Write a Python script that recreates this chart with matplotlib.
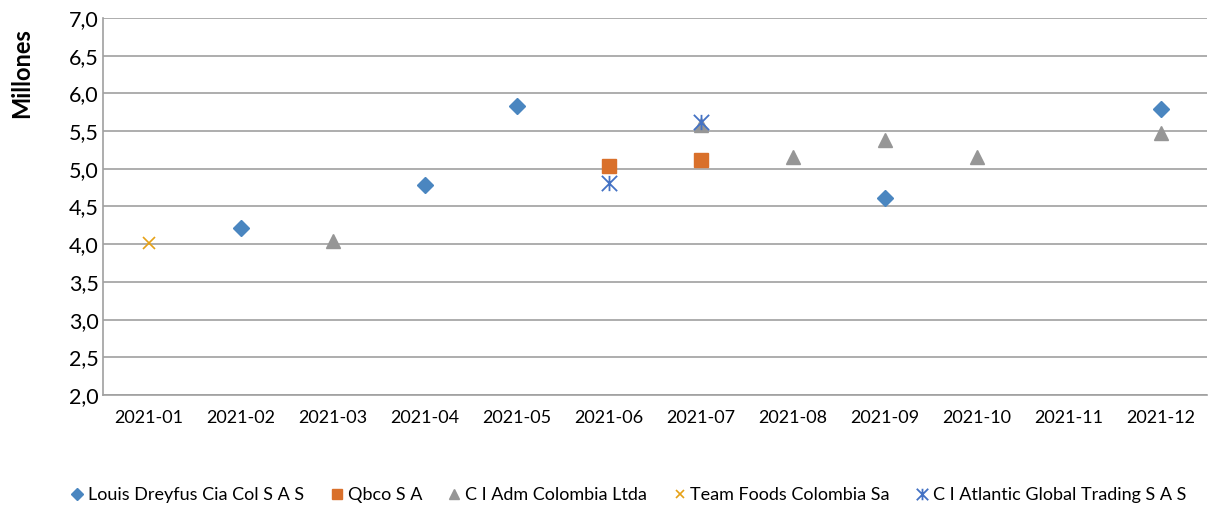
import matplotlib
matplotlib.use('Agg')
import matplotlib.pyplot as plt
from matplotlib.path import Path
import numpy as np

months = ['2021-01', '2021-02', '2021-03', '2021-04', '2021-05', '2021-06',
          '2021-07', '2021-08', '2021-09', '2021-10', '2021-11', '2021-12']

# values in millions, None where there is no point
louis_dreyfus = [None, 4.22, None, 4.79, 5.83, None, None, None, 4.61, None, None, 5.79]
qbco = [None, None, None, None, None, 5.04, 5.12, None, None, None, None, None]
ci_adm = [None, None, 4.04, None, None, None, 5.58, 5.16, 5.38, 5.16, None, 5.47]
team_foods = [4.01, None, None, None, None, None, None, None, None, None, None, None]
ci_atlantic = [None, None, None, None, None, 4.81, 5.62, None, None, None, None, None]

y_ticks = [2.0, 2.5, 3.0, 3.5, 4.0, 4.5, 5.0, 5.5, 6.0, 6.5, 7.0]

# Excel-like asterisk: X plus vertical bar
star = Path([(-1, -1), (1, 1), (-1, 1), (1, -1), (0, -1), (0, 1)],
            [Path.MOVETO, Path.LINETO, Path.MOVETO, Path.LINETO, Path.MOVETO, Path.LINETO])

series = [
    ('Louis Dreyfus Cia Col S A S', louis_dreyfus, dict(marker='D', color='#4A86C0', markersize=8.5)),
    ('Qbco S A', qbco, dict(marker='s', color='#D9702B', markersize=9.5)),
    ('C I Adm Colombia Ltda', ci_adm, dict(marker='^', color='#969696', markersize=10)),
    ('Team Foods Colombia Sa', team_foods, dict(marker='x', color='#E6A117', markersize=8.5, markeredgewidth=1.2)),
    ('C I Atlantic Global Trading S A S', ci_atlantic, dict(marker=star, color='#4472C4', markersize=11, markeredgewidth=1.3)),
]

plt.rcParams['font.family'] = ['Lato', 'DejaVu Sans']

fig = plt.figure(figsize=(12.08, 5.07), dpi=100)
ax = fig.add_axes([103 / 1208, 1 - 395 / 507, 1104 / 1208, 377 / 507])

x = np.arange(len(months))
for name, vals, style in series:
    xs = [i for i, v in zip(x, vals) if v is not None]
    ys = [v for v in vals if v is not None]
    ax.plot(xs, ys, linestyle='none', label=name, **style)

ax.set_xlim(-0.5, len(months) - 0.5)
ax.set_ylim(2.0, 7.0)
ax.set_xticks(x)
ax.set_xticklabels(months, fontsize=13)
ax.set_yticks(y_ticks)
ax.set_yticklabels([f'{t:.1f}'.replace('.', ',') for t in y_ticks], fontsize=15.5)
ax.tick_params(axis='both', length=0)
ax.tick_params(axis='x', pad=11)
ax.tick_params(axis='y', pad=3)
ax.grid(axis='y', color='#A0A0A0', linewidth=1.2)
ax.set_axisbelow(True)
for side in ['top', 'right']:
    ax.spines[side].set_visible(False)
for side in ['left', 'bottom']:
    ax.spines[side].set_color('#A0A0A0')
    ax.spines[side].set_linewidth(1.2)

ax.set_ylabel('Millones', fontsize=17, fontweight='bold')
ax.yaxis.set_label_coords(-0.063, 0.855)

fig.legend(loc='center left', bbox_to_anchor=(0.043, 0.024), ncol=5, frameon=False,
           fontsize=13, handletextpad=0.1, columnspacing=1.3, markerscale=0.75,
           handlelength=1.0)

fig.savefig('out.png', dpi=100)
